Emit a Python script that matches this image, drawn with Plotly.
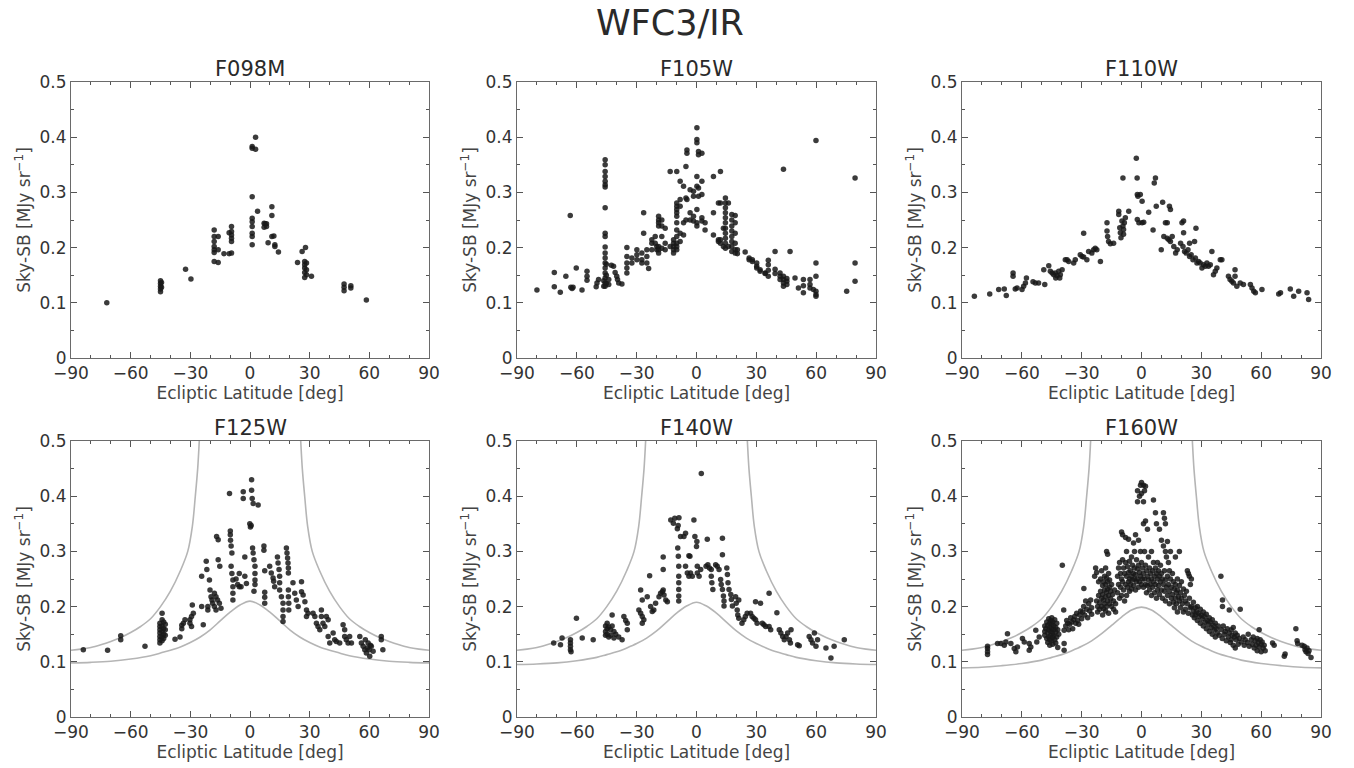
import plotly.graph_objects as go

# ---------------- data ----------------
panel_names = ["F098M", "F105W", "F110W", "F125W", "F140W", "F160W"]

f098m_pts = [
    (-72, 0.100),
    (-45, 0.140), (-45, 0.135), (-45, 0.130), (-45, 0.125), (-45, 0.120), (-44.5, 0.128), (-44.5, 0.137),
    (-32.4, 0.161), (-29.7, 0.143),
    (-18, 0.232), (-18, 0.220), (-18, 0.211), (-18, 0.202), (-18, 0.196), (-18, 0.191), (-18, 0.175),
    (-16, 0.220), (-16, 0.196), (-16, 0.173), (-13.1, 0.189),
    (-9.3, 0.238), (-9.3, 0.229), (-9.3, 0.223), (-9.3, 0.217), (-9.3, 0.211), (-9.3, 0.190),
    (-10.5, 0.189), (-10.5, 0.227),
    (1.1, 0.383), (1.1, 0.380), (1.1, 0.292), (1.1, 0.253), (1.1, 0.247), (1.1, 0.238), (1.1, 0.226), (1.1, 0.220), (1.1, 0.205),
    (2.8, 0.400), (2.8, 0.378), (3.8, 0.266),
    (7.1, 0.244), (7.1, 0.237), (7.6, 0.243), (8.3, 0.243), (8.3, 0.238), (9.1, 0.209),
    (11, 0.274), (11, 0.258), (11, 0.220), (12, 0.221), (12.5, 0.205), (12.5, 0.202), (14.3, 0.192),
    (23.9, 0.173), (26.2, 0.193), (27.9, 0.200),
    (27.5, 0.175), (27.5, 0.169), (27.5, 0.163), (27.5, 0.155), (27.5, 0.146),
    (28.4, 0.172), (28.4, 0.160), (28.4, 0.151), (30.9, 0.148),
    (47.3, 0.134), (47.3, 0.128), (47.3, 0.122), (50.7, 0.131), (50.7, 0.127), (58.5, 0.105),
]

f105w_pts = [
    (-80, 0.123), (-71.3, 0.155), (-71.3, 0.129), (-68.3, 0.119), (-65.5, 0.148), (-63.3, 0.258),
    (-63, 0.128), (-62.4, 0.126), (-61.9, 0.128), (-60.3, 0.163), (-57.4, 0.123),
    (-54.9, 0.157), (-54.9, 0.148), (-54.9, 0.141), (-50.3, 0.129), (-49.9, 0.136), (-49.1, 0.142),
    (-45.8, 0.359), (-45.8, 0.350), (-45.8, 0.338), (-45.8, 0.329), (-45.8, 0.320), (-45.8, 0.314), (-45.8, 0.310),
    (-45.8, 0.272), (-45.8, 0.226), (-45.8, 0.220), (-45.8, 0.201), (-45.8, 0.190), (-45.8, 0.181), (-45.8, 0.172),
    (-45.8, 0.163), (-45.8, 0.154), (-45.8, 0.145), (-45.8, 0.136), (-45.8, 0.130),
    (-45.2, 0.135), (-45.2, 0.150), (-45.2, 0.170), (-46.5, 0.140), (-46.5, 0.130),
    (-44, 0.142), (-44, 0.133), (-42.7, 0.168), (-41.6, 0.166), (-40.8, 0.155), (-40, 0.148), (-39.6, 0.142),
    (-39, 0.136), (-37.4, 0.134),
    (-34.9, 0.184), (-34.9, 0.172), (-34.9, 0.163), (-34.9, 0.154), (-34.9, 0.200), (-32.4, 0.181), (-32.4, 0.172),
    (-29.9, 0.196), (-29.9, 0.187), (-29.9, 0.178), (-27.4, 0.190), (-27.4, 0.178), (-27.4, 0.172),
    (-26.5, 0.263), (-26.5, 0.226), (-24.9, 0.196), (-24.9, 0.184), (-24.9, 0.172), (-24, 0.162),
    (-22.4, 0.214), (-22.4, 0.208), (-22.4, 0.196), (-20.7, 0.220), (-20.7, 0.208), (-19.9, 0.202), (-19.9, 0.196),
    (-19, 0.257), (-19, 0.250), (-19, 0.245), (-19, 0.239), (-19, 0.202), (-19, 0.196), (-19, 0.190),
    (-17.4, 0.250), (-17.4, 0.239), (-17.4, 0.220), (-17.4, 0.199), (-15.7, 0.235), (-15.7, 0.208), (-15.7, 0.196),
    (-13.2, 0.338), (-13.2, 0.202), (-11.5, 0.214), (-11.5, 0.208), (-11.5, 0.202), (-11.5, 0.196), (-11.5, 0.190),
    (-9.9, 0.338), (-9.9, 0.281), (-9.9, 0.275), (-9.9, 0.269), (-9.9, 0.263), (-9.9, 0.257), (-9.9, 0.245),
    (-9.9, 0.232), (-9.9, 0.220), (-9.9, 0.208), (-9.9, 0.202), (-9.9, 0.196),
    (-8.2, 0.320), (-8.2, 0.287), (-8.2, 0.275), (-8.2, 0.226), (-8.2, 0.211), (-6.5, 0.311), (-6.5, 0.245),
    (-6.5, 0.223), (-5.3, 0.347), (-5.3, 0.290), (-5.3, 0.250), (-4.8, 0.377), (-4.8, 0.371), (-4.8, 0.287),
    (-3.2, 0.305), (-3.2, 0.263), (-3.2, 0.250), (-1.5, 0.302), (-1.5, 0.293), (-1.5, 0.257), (-1.5, 0.248),
    (0.2, 0.417), (0.2, 0.396), (0.2, 0.390), (0.2, 0.329), (0.2, 0.311), (0.2, 0.269), (0.2, 0.245), (0.2, 0.239),
    (1, 0.374), (1, 0.368), (1, 0.308), (1, 0.293), (2.7, 0.371), (2.7, 0.320), (2.7, 0.296), (2.7, 0.254),
    (2.7, 0.248), (4.3, 0.245), (4.3, 0.232),
    (8.5, 0.263), (8.5, 0.223), (8.5, 0.329), (11, 0.281), (11, 0.214), (11, 0.211), (12, 0.338), (12, 0.281),
    (12, 0.214), (12, 0.208), (13.5, 0.202), (13.5, 0.235),
    (14.5, 0.290), (14.5, 0.281), (14.5, 0.272), (14.5, 0.263), (14.5, 0.254), (14.5, 0.245), (14.5, 0.235),
    (14.5, 0.226), (14.5, 0.217), (14.5, 0.208), (14.5, 0.199), (16, 0.281), (16, 0.202),
    (17.7, 0.260), (17.7, 0.250), (17.7, 0.239), (17.7, 0.230), (17.7, 0.220), (17.7, 0.211), (17.7, 0.202), (17.7, 0.193),
    (19.4, 0.258), (19.4, 0.245), (19.4, 0.226), (19.4, 0.208), (19.4, 0.196), (19.4, 0.190),
    (20.5, 0.196), (20.5, 0.189), (24.4, 0.192), (26.4, 0.181), (26.4, 0.178), (28, 0.178), (28, 0.175),
    (30.2, 0.172), (30.2, 0.166), (30.2, 0.163), (31.9, 0.160), (31.9, 0.157), (34.4, 0.154), (34.4, 0.153),
    (36, 0.177), (36, 0.169), (36, 0.159), (36, 0.148), (39.4, 0.193), (39.4, 0.161), (39.4, 0.153),
    (41.9, 0.154), (41.9, 0.148), (41.9, 0.142), (43.6, 0.342), (43.6, 0.148), (43.6, 0.142), (43.6, 0.136),
    (43.6, 0.130), (45.3, 0.144), (45.3, 0.139), (45.3, 0.133), (46.9, 0.193), (49.4, 0.145), (51.1, 0.127),
    (53.6, 0.142), (53.6, 0.118), (53.6, 0.131), (56.9, 0.142), (56.9, 0.133), (56.9, 0.127), (58.6, 0.124),
    (59.9, 0.394), (59.9, 0.172), (59.9, 0.148), (59.9, 0.121), (59.9, 0.115), (59.9, 0.112),
    (75.3, 0.121), (79.5, 0.326), (79.5, 0.172), (79.5, 0.139),
]

f110w_pts = [
    (-83.8, 0.112), (-76.1, 0.116), (-71.6, 0.124), (-68.8, 0.125), (-67.8, 0.113), (-64.4, 0.154), (-64.4, 0.148),
    (-63.3, 0.125), (-62.4, 0.127), (-59.9, 0.124), (-59.1, 0.130), (-58.2, 0.136), (-57.7, 0.145), (-54.4, 0.138),
    (-53.2, 0.136), (-51.6, 0.136), (-49, 0.160), (-48.5, 0.133),
    (-46.5, 0.167), (-45.7, 0.157), (-44.8, 0.154), (-44, 0.151), (-43.2, 0.154), (-42.3, 0.149), (-41.5, 0.157),
    (-40.7, 0.151), (-39.8, 0.160), (-43, 0.145), (-41, 0.145),
    (-38.2, 0.178), (-37.3, 0.178), (-36.5, 0.175), (-34, 0.172), (-33.2, 0.178), (-30.7, 0.187), (-29.8, 0.184),
    (-29, 0.183), (-29, 0.226), (-27.4, 0.178), (-26.5, 0.193), (-24.9, 0.190), (-24, 0.196), (-23.2, 0.199),
    (-22.4, 0.196), (-20.6, 0.175),
    (-17.3, 0.245), (-17.3, 0.230), (-17, 0.220), (-16.5, 0.211), (-15.6, 0.207), (-14, 0.208), (-11.4, 0.266),
    (-11.4, 0.260), (-10.9, 0.236), (-10.6, 0.227), (-10.3, 0.218), (-9.8, 0.248), (-9.3, 0.239), (-9, 0.233),
    (-9, 0.224), (-8.6, 0.245), (-8.1, 0.254), (-9.3, 0.326), (-6.4, 0.266),
    (-2.6, 0.362), (-2.2, 0.326), (-2.1, 0.296), (-1.8, 0.293), (-0.6, 0.296), (0.3, 0.284), (-2.1, 0.251),
    (-1.3, 0.245), (0.3, 0.245), (1.1, 0.246), (3.6, 0.264), (5.8, 0.232), (6.4, 0.317), (7, 0.326), (7.4, 0.275),
    (9.9, 0.196), (10.6, 0.282), (12, 0.245), (12.9, 0.245), (14, 0.275), (14.5, 0.269),
    (11.2, 0.220), (12.9, 0.217), (13.7, 0.214), (14.5, 0.211), (15.4, 0.220), (16.2, 0.202), (17.1, 0.190),
    (17.9, 0.196), (20.3, 0.245), (21.1, 0.248), (21.1, 0.227), (19.6, 0.208), (20.8, 0.202), (21.6, 0.193),
    (22.4, 0.190), (23.3, 0.196), (24.1, 0.184), (24.9, 0.187), (24.1, 0.208), (26.6, 0.211), (27.3, 0.235),
    (25.8, 0.178), (27, 0.181), (27.8, 0.172), (28.6, 0.175), (29.4, 0.172), (30.3, 0.163), (31.1, 0.169),
    (32, 0.166), (32.8, 0.172), (33.6, 0.166), (34.5, 0.169), (35.3, 0.193), (36.1, 0.151), (37, 0.157),
    (37.8, 0.163), (39.5, 0.178), (40.3, 0.178),
    (43.6, 0.148), (44.4, 0.142), (45.3, 0.139), (46.1, 0.136), (46.9, 0.160), (46.9, 0.148), (47.8, 0.130),
    (49.5, 0.136), (51.1, 0.133), (54.6, 0.133), (55.4, 0.127), (56.3, 0.121), (57.1, 0.118), (60.4, 0.124),
    (68.8, 0.116), (69.7, 0.118), (74.6, 0.125), (76.3, 0.112), (78.8, 0.121), (83, 0.118), (83.8, 0.106),
]

f125w_pts = [
    (-83.8, 0.122), (-71.6, 0.121), (-65, 0.147), (-65, 0.140), (-52.8, 0.128),
    (-44.2, 0.188), (-45.3, 0.170), (-45.3, 0.164), (-45.3, 0.158), (-45.3, 0.152), (-45.3, 0.146), (-45.3, 0.140),
    (-45.3, 0.134), (-44.2, 0.176), (-44.2, 0.165), (-44.2, 0.155), (-44.2, 0.145), (-44.2, 0.138), (-43.4, 0.172),
    (-43.4, 0.160), (-43.4, 0.150), (-43.4, 0.142), (-42.6, 0.168), (-42.6, 0.158), (-42.6, 0.148),
    (-37.7, 0.141), (-35.2, 0.145), (-34.3, 0.160), (-34.3, 0.166), (-33.5, 0.170), (-32.7, 0.176), (-30.2, 0.176),
    (-29.4, 0.182), (-28.5, 0.188), (-29.4, 0.164), (-30.2, 0.170), (-29, 0.203),
    (-24.3, 0.255), (-24.3, 0.200), (-23.5, 0.167), (-22, 0.282), (-21.7, 0.267), (-21.2, 0.200), (-21.2, 0.194),
    (-20.4, 0.248), (-20.1, 0.230), (-19.6, 0.218), (-19.1, 0.212), (-18.8, 0.206), (-17.9, 0.200), (-17.1, 0.194),
    (-16.8, 0.327), (-16, 0.321), (-17.9, 0.224), (-17.1, 0.218), (-16.3, 0.212), (-15.4, 0.206), (-14.6, 0.197),
    (-16, 0.285), (-15.2, 0.273),
    (-10.3, 0.405), (-9.9, 0.337), (-9.9, 0.330), (-9.8, 0.320), (-9.5, 0.310), (-9.1, 0.297), (-9.5, 0.273),
    (-9.1, 0.260), (-8.6, 0.248), (-8.6, 0.236), (-8.6, 0.224), (-8.6, 0.212),
    (-7, 0.250), (-6.2, 0.240), (-5.4, 0.236), (-5.4, 0.260), (-4.5, 0.236),
    (-3.4, 0.408), (-3.4, 0.396), (-2.6, 0.290), (-2.6, 0.255), (-1.8, 0.242),
    (-0.1, 0.350), (0.2, 0.344), (0.6, 0.347), (0.8, 0.430), (0.8, 0.411), (1.1, 0.396), (1.6, 0.387),
    (1.3, 0.306), (1.6, 0.297), (2, 0.285), (2.5, 0.273), (2.5, 0.260), (2.5, 0.248), (2.5, 0.240), (2, 0.228),
    (4.1, 0.384), (7, 0.310), (7, 0.302), (7.4, 0.265), (7.4, 0.226), (7.4, 0.217), (7.4, 0.206),
    (9.9, 0.273), (10.7, 0.261), (11.6, 0.252), (11.9, 0.246), (12.4, 0.236),
    (13.8, 0.290), (14.1, 0.279), (14.6, 0.267), (14.9, 0.255), (14.9, 0.243), (14.9, 0.230), (15.8, 0.218),
    (16.6, 0.206), (16.6, 0.194), (16.6, 0.182), (16.6, 0.173),
    (18.3, 0.306), (18.6, 0.297), (18.9, 0.288), (19.1, 0.279), (19.3, 0.270), (19.3, 0.261), (19.3, 0.230),
    (19.3, 0.218), (19.5, 0.206), (19.5, 0.194),
    (21.6, 0.243), (22.5, 0.224), (23.3, 0.212), (24.2, 0.200), (25.9, 0.245), (25.9, 0.227), (26.7, 0.221),
    (27.6, 0.209), (28.4, 0.194), (28.4, 0.182), (29.2, 0.188),
    (31.7, 0.188), (32.6, 0.182), (33.4, 0.170), (34.2, 0.164), (35.1, 0.158), (35.9, 0.194), (35.9, 0.182),
    (36.7, 0.170), (37.6, 0.164), (38.4, 0.182), (39.3, 0.176), (39.3, 0.146), (40.1, 0.134), (41.8, 0.152),
    (42.6, 0.140), (43.4, 0.137),
    (45.1, 0.134), (46.8, 0.167), (47.6, 0.158), (47.6, 0.146), (48.4, 0.140), (49.3, 0.134), (50.1, 0.146),
    (51, 0.134),
    (55.2, 0.146), (56, 0.134), (56.9, 0.128), (57.7, 0.122), (58.5, 0.116), (59.4, 0.134), (59.9, 0.122),
    (60.2, 0.110), (61, 0.128), (61.9, 0.119), (58, 0.140), (60.5, 0.130), (59, 0.125),
    (66, 0.146), (66, 0.140), (66.8, 0.122),
]

f140w_pts = [
    (-71.6, 0.134), (-68.2, 0.131), (-67.4, 0.143), (-63.2, 0.140), (-63.2, 0.134), (-63.2, 0.128), (-63.2, 0.122),
    (-62.9, 0.118), (-60.2, 0.179), (-57.3, 0.143), (-51.8, 0.140),
    (-45.6, 0.165), (-45.6, 0.155), (-45.6, 0.148), (-44.8, 0.170), (-44.8, 0.160), (-44.8, 0.150), (-44, 0.163),
    (-44, 0.145), (-43.1, 0.158), (-43.1, 0.148), (-42.3, 0.185), (-42.3, 0.165), (-41.4, 0.155), (-41.4, 0.143),
    (-40.5, 0.150), (-39, 0.145),
    (-37.3, 0.140), (-36.4, 0.182), (-35.5, 0.175), (-34.7, 0.170), (-34.7, 0.158),
    (-28.9, 0.194), (-28, 0.188), (-27.2, 0.182), (-26.4, 0.176), (-27.2, 0.170), (-27.2, 0.212), (-24.7, 0.218),
    (-28, 0.230), (-23.5, 0.256), (-23, 0.200), (-22.2, 0.191), (-21.4, 0.194), (-20.5, 0.206),
    (-18.8, 0.218), (-18, 0.224), (-17.1, 0.227), (-16.7, 0.230), (-16.3, 0.221), (-15.4, 0.212), (-14.6, 0.209),
    (-16.7, 0.290), (-16.7, 0.267),
    (-12.9, 0.357), (-11.6, 0.351), (-10.9, 0.360), (-9.6, 0.341), (-9.2, 0.347), (-8.8, 0.361),
    (-9.4, 0.306), (-9.1, 0.291), (-8.9, 0.273), (-8.9, 0.255), (-8.9, 0.243), (-8.9, 0.231), (-8.9, 0.219),
    (-8.9, 0.210),
    (-8, 0.327), (-6.3, 0.327), (-5.5, 0.333), (-3.8, 0.292), (-3.3, 0.291), (-5.5, 0.273), (-4.6, 0.261),
    (-3.8, 0.255), (-3, 0.261), (-2.1, 0.255),
    (-1.3, 0.357), (-0.8, 0.327), (0, 0.309), (0.4, 0.273), (0.4, 0.261), (1.3, 0.255), (2.1, 0.267), (2.4, 0.441),
    (0.2, 0.318),
    (4.8, 0.273), (5.7, 0.276), (6.5, 0.270), (7.4, 0.267), (7.4, 0.255), (7.7, 0.243), (8.2, 0.231), (5.4, 0.322),
    (9.6, 0.276), (10.4, 0.273), (11.3, 0.267), (13, 0.324), (13, 0.294), (12.1, 0.249), (12.4, 0.240),
    (13, 0.231), (13.5, 0.219), (13.8, 0.210), (13.8, 0.201),
    (15.2, 0.270), (15.5, 0.258), (15.8, 0.243), (16.3, 0.231), (17.2, 0.222), (17.5, 0.213), (18, 0.201),
    (19.6, 0.218), (19.9, 0.206), (20.4, 0.194), (20.7, 0.185), (21.2, 0.212), (21.2, 0.179),
    (22.8, 0.170), (23.7, 0.176), (24.5, 0.182), (25.4, 0.188),
    (27.1, 0.188), (27.9, 0.182), (28.8, 0.179), (29.6, 0.176), (30.4, 0.170), (29.6, 0.209), (32.1, 0.206),
    (33, 0.170), (33.8, 0.167), (34.7, 0.164), (36.4, 0.164), (37.2, 0.158), (36.4, 0.224), (40.3, 0.189),
    (41.5, 0.158), (42.3, 0.152), (43.2, 0.146), (44, 0.140), (44.9, 0.146), (45.7, 0.152), (46.6, 0.140),
    (47.1, 0.134), (47.4, 0.158),
    (50.7, 0.131), (51.5, 0.129), (56.5, 0.146), (57.4, 0.140), (58.2, 0.134), (59.1, 0.152), (59.9, 0.128),
    (60.7, 0.140), (64.9, 0.125), (67.4, 0.107), (69, 0.128), (74.1, 0.140),
]

f160w_pts = [
    (-77.2, 0.128), (-77.2, 0.124), (-77.2, 0.118), (-77.2, 0.113), (-72.2, 0.133), (-70.5, 0.133), (-68.8, 0.130),
    (-68, 0.136), (-67.2, 0.151), (-65.5, 0.133), (-63.8, 0.124), (-63, 0.118), (-62.2, 0.127), (-59.7, 0.142),
    (-58.8, 0.136), (-56.3, 0.121), (-55.5, 0.127), (-56.3, 0.133), (-53, 0.157), (-52.5, 0.136), (-51.3, 0.145),
    (-48.5, 0.165), (-48.5, 0.155), (-48.5, 0.148), (-48, 0.160), (-47.5, 0.172), (-47.5, 0.142), (-47, 0.166),
    (-47, 0.152), (-47, 0.135), (-46.5, 0.178), (-46.5, 0.158), (-46.5, 0.145), (-46, 0.170), (-46, 0.162),
    (-46, 0.140), (-46, 0.130), (-45.5, 0.175), (-45.5, 0.155), (-45.5, 0.148), (-45, 0.180), (-45, 0.168),
    (-45, 0.160), (-45, 0.138), (-44.5, 0.172), (-44.5, 0.152), (-44.5, 0.144), (-44.5, 0.132), (-44, 0.165),
    (-44, 0.158), (-44, 0.147), (-43.5, 0.176), (-43.5, 0.140), (-43, 0.162), (-43, 0.154), (-43, 0.134),
    (-42.5, 0.170), (-42.5, 0.145), (-42, 0.158), (-42, 0.126), (-41.5, 0.150),
    (-39.7, 0.275), (-39, 0.194), (-38.8, 0.157), (-38.8, 0.133), (-38.8, 0.121), (-38, 0.165), (-37.5, 0.175),
    (-37, 0.170), (-36.5, 0.158), (-36, 0.168), (-35.5, 0.180), (-35, 0.172), (-34.5, 0.160), (-34, 0.176),
    (-33.5, 0.182), (-33, 0.170), (-32.5, 0.188), (-32, 0.175), (-31.5, 0.168), (-31, 0.185), (-30.5, 0.192),
    (-30, 0.178), (-29.5, 0.190), (-29, 0.200), (-28.9, 0.233), (-28.5, 0.185), (-28, 0.210), (-27.5, 0.195),
    (-27, 0.180), (-26.5, 0.205), (-26, 0.192), (-25.5, 0.212), (-25, 0.198), (-25, 0.186),
    (-23.5, 0.255), (-23, 0.270), (-22.5, 0.262), (-22.5, 0.210), (-22, 0.200), (-22, 0.190), (-21.5, 0.245),
    (-21.5, 0.220), (-21, 0.207), (-21, 0.195), (-20.5, 0.250), (-20.5, 0.228), (-20, 0.265), (-20, 0.215),
    (-20, 0.200), (-19.5, 0.238), (-19.5, 0.222), (-19.5, 0.185), (-19, 0.245), (-19, 0.212), (-19, 0.196),
    (-18.5, 0.255), (-18.5, 0.230), (-18.5, 0.205), (-18, 0.270), (-18, 0.240), (-18, 0.218), (-18, 0.192),
    (-17.5, 0.300), (-17.5, 0.252), (-17.5, 0.226), (-17.5, 0.200), (-17, 0.295), (-17, 0.245), (-17, 0.232),
    (-17, 0.210), (-16.5, 0.260), (-16.5, 0.220), (-16.5, 0.188), (-16, 0.248), (-16, 0.235), (-16, 0.205),
    (-15.5, 0.228), (-15.5, 0.214), (-15, 0.240), (-15, 0.200), (-14.5, 0.222), (-14, 0.210), (-14, 0.195),
    (-13.5, 0.230), (-13, 0.205), (-13, 0.190),
    (-12, 0.225), (-12, 0.255), (-11.5, 0.270), (-11.5, 0.240), (-11, 0.215), (-11, 0.280), (-10.5, 0.260),
    (-10.5, 0.235), (-10, 0.335), (-10, 0.250), (-10, 0.220), (-9.5, 0.330), (-9.5, 0.285), (-9.5, 0.245),
    (-9, 0.270), (-9, 0.230), (-8.5, 0.260), (-8.5, 0.210), (-8, 0.325), (-8, 0.280), (-8, 0.240), (-7.5, 0.300),
    (-7.5, 0.255), (-7.5, 0.220), (-7, 0.272), (-7, 0.235), (-6.5, 0.322), (-6.5, 0.262), (-6.5, 0.245),
    (-6, 0.282), (-6, 0.250), (-6, 0.228), (-5.5, 0.265), (-5.5, 0.240), (-5, 0.290), (-5, 0.255), (-5, 0.232),
    (-4.5, 0.275), (-4.5, 0.248), (-4, 0.315), (-4, 0.260), (-4, 0.238), (-3.5, 0.300), (-3.5, 0.270),
    (-3.5, 0.250), (-3, 0.330), (-3, 0.258), (-3, 0.230), (-2.5, 0.285), (-2.5, 0.245), (-2, 0.410), (-2, 0.390),
    (-2, 0.268), (-2, 0.250), (-1.5, 0.320), (-1.5, 0.275), (-1.5, 0.235), (-1, 0.400), (-1, 0.262), (-1, 0.245),
    (-0.5, 0.420), (-0.5, 0.300), (-0.5, 0.255), (0, 0.425), (0, 0.405), (0, 0.280), (0, 0.240), (0.5, 0.270),
    (0.5, 0.250),
    (1, 0.420), (1, 0.390), (1, 0.350), (1, 0.260), (1, 0.235), (1.5, 0.410), (1.5, 0.300), (1.5, 0.250),
    (2, 0.418), (2, 0.355), (2, 0.275), (2, 0.240), (2.5, 0.265), (2.5, 0.225), (3, 0.340), (3, 0.255),
    (3, 0.238), (3.5, 0.290), (3.5, 0.248), (4, 0.270), (4, 0.230), (4.5, 0.260), (4.5, 0.240), (5, 0.300),
    (5, 0.250), (5, 0.220), (5.5, 0.265), (5.5, 0.235), (6, 0.393), (6, 0.280), (6, 0.245), (6.5, 0.255),
    (6.5, 0.225), (7, 0.370), (7, 0.270), (7, 0.240), (7.5, 0.350), (7.5, 0.260), (7.5, 0.215), (8, 0.280),
    (8, 0.250), (8, 0.230), (8.5, 0.265), (8.5, 0.238), (9, 0.340), (9, 0.255), (9, 0.222), (9.5, 0.275),
    (9.5, 0.245), (10, 0.320), (10, 0.260), (10, 0.230), (10.5, 0.250), (10.5, 0.215), (11, 0.370), (11, 0.310),
    (11, 0.240), (11.5, 0.360), (11.5, 0.265), (11.5, 0.228), (12, 0.350), (12, 0.300), (12, 0.248), (12, 0.210),
    (12.5, 0.290), (12.5, 0.235), (13, 0.318), (13, 0.255), (13, 0.220), (13.5, 0.280), (13.5, 0.240),
    (14, 0.265), (14, 0.228), (14, 0.205), (14.5, 0.300), (14.5, 0.250), (15, 0.235), (15, 0.215), (15.5, 0.260),
    (15.5, 0.222), (16, 0.245), (16, 0.208), (16.5, 0.232), (16.5, 0.198), (17, 0.290), (17, 0.240), (17, 0.215),
    (17.5, 0.225), (17.5, 0.205), (18, 0.250), (18, 0.230), (18, 0.190), (18.5, 0.218), (19, 0.300), (19, 0.238),
    (19, 0.210), (19.5, 0.225), (19.5, 0.198), (20, 0.245), (20, 0.215), (20.5, 0.205), (21, 0.232), (21, 0.190),
    (21.5, 0.220), (22, 0.210), (22, 0.195), (22.5, 0.228), (23, 0.265), (23, 0.205), (23.5, 0.260),
    (23.5, 0.188), (24, 0.255), (24, 0.215), (24.5, 0.240), (24.5, 0.198), (25, 0.250), (25, 0.200),
    (25.5, 0.185), (26, 0.208), (26, 0.192), (26.5, 0.180), (27, 0.198), (27, 0.185), (27.5, 0.190), (28, 0.200),
    (28, 0.175), (28.5, 0.188), (29, 0.182), (29.5, 0.195), (29.5, 0.170), (30, 0.185),
    (30.5, 0.178), (31, 0.190), (31, 0.165), (31.5, 0.182), (32, 0.172), (32.5, 0.186), (32.5, 0.160),
    (33, 0.175), (33.5, 0.168), (34, 0.180), (34, 0.155), (34.5, 0.172), (35, 0.162), (35.5, 0.176),
    (35.5, 0.150), (36, 0.166), (36.5, 0.158), (37, 0.170), (37, 0.145), (37.5, 0.160), (38, 0.152),
    (38.5, 0.165), (39, 0.148), (39.8, 0.255), (40, 0.158), (40.6, 0.212), (40.6, 0.200), (40.5, 0.142),
    (41, 0.165), (41.5, 0.150), (42, 0.155), (42.5, 0.138), (43, 0.160), (43.5, 0.145), (44, 0.194), (44, 0.152),
    (44.5, 0.135), (45, 0.158), (45, 0.140), (45.5, 0.148), (46, 0.162), (46, 0.130), (46.5, 0.145), (47, 0.152),
    (47, 0.125), (47.5, 0.140), (48, 0.148), (48.5, 0.132), (49, 0.142), (49.5, 0.195), (50, 0.136),
    (51, 0.145), (51.5, 0.130), (52, 0.140), (53, 0.135), (53.5, 0.150), (54, 0.128), (55, 0.140), (55.5, 0.132),
    (56, 0.145), (56.5, 0.125), (57, 0.138), (57.5, 0.130), (58, 0.142), (58, 0.120), (58.5, 0.135), (59, 0.158),
    (59, 0.127), (59.5, 0.140), (60, 0.132), (60, 0.118), (60.5, 0.136), (61, 0.125), (61.5, 0.130), (62, 0.120),
    (65.7, 0.134), (66.5, 0.130), (71.6, 0.110), (72, 0.114), (77.4, 0.160), (78, 0.138), (78.3, 0.133),
    (80.5, 0.130), (81.6, 0.128), (82, 0.122), (82.5, 0.118), (83, 0.125), (83.5, 0.115), (84, 0.120), (85, 0.108),
]

# envelope curves (bottom row)
upper_lat = [-90, -85, -80, -75, -70, -65, -60, -55, -50, -45, -40, -35, -31.3, -29, -27.5, -26.3, -25.5, -24.8,
             None,
             24.8, 25.5, 26.3, 27.5, 29, 31.3, 35, 40, 45, 50, 55, 60, 65, 70, 75, 80, 85, 90]
upper_sb = [0.121, 0.123, 0.126, 0.131, 0.137, 0.144, 0.153, 0.164, 0.178, 0.200, 0.228, 0.265, 0.300, 0.345, 0.400,
            0.450, 0.500, 0.550,
            None,
            0.550, 0.500, 0.450, 0.400, 0.345, 0.300, 0.265, 0.228, 0.200, 0.178, 0.164, 0.153, 0.144, 0.137, 0.131,
            0.126, 0.123, 0.121]

lower_lat = [-90, -80, -70, -60, -50, -45, -40, -35, -30, -25, -20, -15, -10, -5, 0,
             5, 10, 15, 20, 25, 30, 35, 40, 45, 50, 60, 70, 80, 90]
lower_f125w = [0.098, 0.099, 0.101, 0.105, 0.111, 0.116, 0.121, 0.127, 0.135, 0.145, 0.158, 0.174, 0.190, 0.203, 0.210,
               0.203, 0.190, 0.174, 0.158, 0.145, 0.135, 0.127, 0.121, 0.116, 0.111, 0.105, 0.101, 0.099, 0.098]
lower_f140w = [0.095, 0.096, 0.098, 0.102, 0.108, 0.113, 0.118, 0.125, 0.133, 0.143, 0.156, 0.172, 0.188, 0.201, 0.208,
               0.201, 0.188, 0.172, 0.156, 0.143, 0.133, 0.125, 0.118, 0.113, 0.108, 0.102, 0.098, 0.096, 0.095]
lower_f160w = [0.089, 0.090, 0.093, 0.097, 0.103, 0.108, 0.113, 0.120, 0.128, 0.138, 0.151, 0.166, 0.181, 0.194, 0.199,
               0.194, 0.181, 0.166, 0.151, 0.138, 0.128, 0.120, 0.113, 0.108, 0.103, 0.097, 0.093, 0.090, 0.089]

x_ticks = [-90, -60, -30, 0, 30, 60, 90]
y_ticks = [0, 0.1, 0.2, 0.3, 0.4, 0.5]

# ---------------- figure ----------------
W, H = 1354, 768
FONT = "DejaVu Sans"
panel_pts = [f098m_pts, f105w_pts, f110w_pts, f125w_pts, f140w_pts, f160w_pts]
lower_curves = {3: lower_f125w, 4: lower_f140w, 5: lower_f160w}

# plot-area boxes in pixels (left, right, top, bottom)
cols_px = [(71, 429), (517, 876), (962, 1321)]
rows_px = [(82, 358), (441, 717)]

fig = go.Figure()
layout = dict(
    width=W, height=H, margin=dict(l=0, r=0, t=0, b=0, autoexpand=False),
    paper_bgcolor="white", plot_bgcolor="white", showlegend=False,
    font=dict(family=FONT, color="#3a3a3a"),
    annotations=[],
)

for i, name in enumerate(panel_names):
    r, c = divmod(i, 3)
    xs = "" if i == 0 else str(i + 1)
    l, rr = cols_px[c]
    t, b = rows_px[r]
    xdom = [l / W, rr / W]
    ydom = [1 - b / H, 1 - t / H]

    # curves first (behind the points)
    if i in lower_curves:
        fig.add_trace(go.Scatter(x=upper_lat, y=upper_sb, mode="lines", connectgaps=False,
                                 line=dict(color="#b5b5b5", width=1.6, shape="spline"),
                                 xaxis="x" + xs, yaxis="y" + xs, hoverinfo="skip"))
        fig.add_trace(go.Scatter(x=lower_lat, y=lower_curves[i], mode="lines",
                                 line=dict(color="#b5b5b5", width=1.6, shape="spline"),
                                 xaxis="x" + xs, yaxis="y" + xs, hoverinfo="skip"))

    lat = [p[0] for p in panel_pts[i]]
    sb = [p[1] for p in panel_pts[i]]
    fig.add_trace(go.Scatter(x=lat, y=sb, mode="markers",
                             marker=dict(size=5.5, color="rgba(25,25,25,0.85)", line=dict(width=0)),
                             xaxis="x" + xs, yaxis="y" + xs, name=name))

    common = dict(showgrid=False, zeroline=False, showline=True, linecolor="#6a6a6a", linewidth=1,
                  mirror="ticks", ticks="inside", ticklen=6, tickwidth=1, tickcolor="#555555",
                  automargin=False,
                  tickfont=dict(family=FONT, size=17, color="#333333"))
    layout["xaxis" + xs] = dict(
        common, domain=xdom, anchor="y" + xs, range=[-90, 90], tickvals=x_ticks,
        minor=dict(dtick=10, tick0=-90, ticks="inside", ticklen=3, tickcolor="#555555", showgrid=False),
        title=dict(text="Ecliptic Latitude [deg]", font=dict(family=FONT, size=17, color="#444444"), standoff=4),
    )
    layout["yaxis" + xs] = dict(
        common, domain=ydom, anchor="x" + xs, range=[0, 0.5], tickvals=y_ticks,
        ticktext=["0", "0.1", "0.2", "0.3", "0.4", "0.5"],
        minor=dict(dtick=0.05, tick0=0, ticks="inside", ticklen=3, tickcolor="#555555", showgrid=False),
        title=dict(text="Sky-SB [MJy sr<sup>−1</sup>]", font=dict(family=FONT, size=17, color="#444444"),
                   standoff=4),
    )
    layout["annotations"].append(dict(
        text=name, x=(xdom[0] + xdom[1]) / 2, y=ydom[1] - 1 / H, xref="paper", yref="paper",
        xanchor="center", yanchor="bottom", showarrow=False,
        font=dict(family=FONT, size=21, color="#2a2a2a")))

layout["annotations"].append(dict(
    text="WFC3/IR", x=670 / W, y=1 - 23 / H, xref="paper", yref="paper",
    xanchor="center", yanchor="middle", showarrow=False,
    font=dict(family=FONT, size=35, color="#2a2a2a")))

fig.update_layout(**layout)
fig.write_html("out.html", config={"displayModeBar": False},
               post_script="document.body.style.margin='0';document.body.style.overflow='hidden';")
